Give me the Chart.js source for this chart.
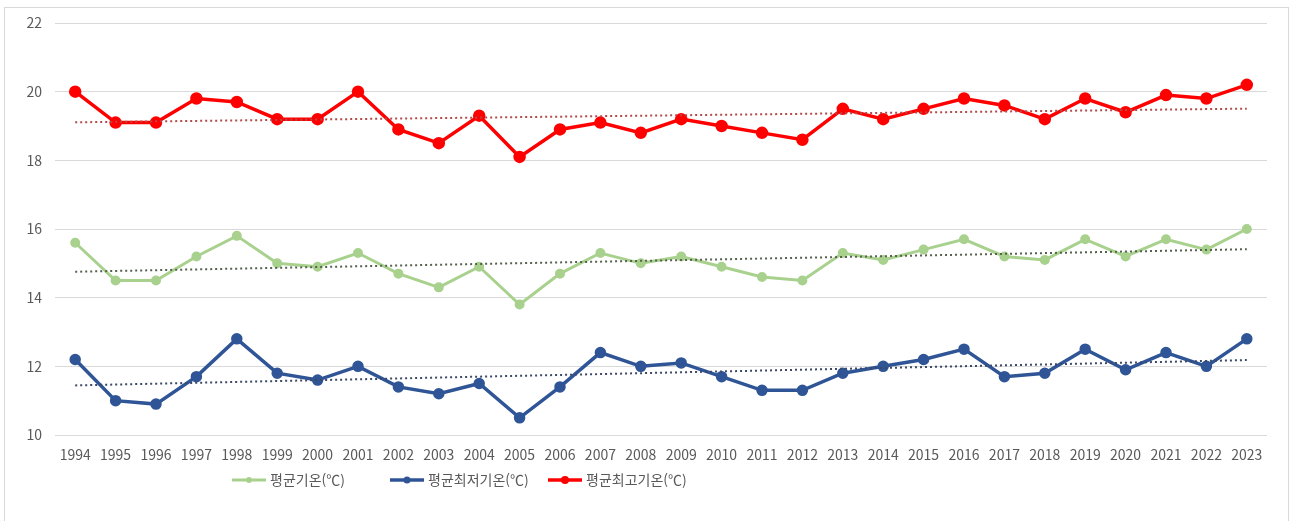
<html lang="ko">
<head>
    <meta charset="UTF-8">
    <title>연도별 기온</title>
    <style>
        body { margin: 0; background: #fff; }
        #frame { position: absolute; left: 4px; top: 7px; width: 1283px; height: 520px; border: 1px solid #d9d9d9; }
        #temp-chart { position: absolute; left: 0; top: 0; }
    </style>
</head>
<body>
    <div id="frame"></div>
    <canvas id="temp-chart" width="1290" height="521"></canvas>

    <script src="https://cdn.jsdelivr.net/npm/chart.js"></script>
    <script>
        // 연도 및 기온 자료
        const years = ['1994','1995','1996','1997','1998','1999','2000','2001','2002','2003',
                       '2004','2005','2006','2007','2008','2009','2010','2011','2012','2013',
                       '2014','2015','2016','2017','2018','2019','2020','2021','2022','2023'];
        const avgTemp = [15.6, 14.5, 14.5, 15.2, 15.8, 15.0, 14.9, 15.3, 14.7, 14.3,
                         14.9, 13.8, 14.7, 15.3, 15.0, 15.2, 14.9, 14.6, 14.5, 15.3,
                         15.1, 15.4, 15.7, 15.2, 15.1, 15.7, 15.2, 15.7, 15.4, 16.0];
        const avgMin = [12.2, 11.0, 10.9, 11.7, 12.8, 11.8, 11.6, 12.0, 11.4, 11.2,
                        11.5, 10.5, 11.4, 12.4, 12.0, 12.1, 11.7, 11.3, 11.3, 11.8,
                        12.0, 12.2, 12.5, 11.7, 11.8, 12.5, 11.9, 12.4, 12.0, 12.8];
        const avgMax = [20.0, 19.1, 19.1, 19.8, 19.7, 19.2, 19.2, 20.0, 18.9, 18.5,
                        19.3, 18.1, 18.9, 19.1, 18.8, 19.2, 19.0, 18.8, 18.6, 19.5,
                        19.2, 19.5, 19.8, 19.6, 19.2, 19.8, 19.4, 19.9, 19.8, 20.2];
        const yTicks = [10, 12, 14, 16, 18, 20, 22];

        const FONT = '"Noto Sans CJK KR", "Noto Sans", sans-serif';
        const TEXT = '#595959';

        // 선형 추세선 (최소제곱)
        function trend(values) {
            const n = values.length;
            let sx = 0, sy = 0, sxy = 0, sxx = 0;
            values.forEach((v, i) => { sx += i; sy += v; sxy += i * v; sxx += i * i; });
            const b = (n * sxy - sx * sy) / (n * sxx - sx * sx);
            const a = (sy - b * sx) / n;
            return values.map((v, i) => a + b * i);
        }

        function series(label, data, color, width, radius) {
            return {
                label: label, data: data,
                borderColor: color, backgroundColor: color,
                borderWidth: width, pointRadius: radius, pointHoverRadius: radius,
                tension: 0
            };
        }

        function trendSeries(data, color) {
            return {
                label: 'trend', data: trend(data),
                borderColor: color, borderWidth: 2, borderDash: [2, 3],
                pointRadius: 0, tension: 0, isTrend: true
            };
        }

        // 범례: 일정한 간격의 칸에 그림
        const slotLegend = {
            id: 'slotLegend',
            afterDraw(chart) {
                const ctx = chart.ctx;
                let i = 0;
                chart.data.datasets.forEach(ds => {
                    if (ds.isTrend) return;
                    const x0 = 232 + i * 158, y = 480;
                    ctx.save();
                    ctx.strokeStyle = ds.borderColor;
                    ctx.lineWidth = ds.borderWidth;
                    ctx.beginPath();
                    ctx.moveTo(x0, y);
                    ctx.lineTo(x0 + 34, y);
                    ctx.stroke();
                    ctx.fillStyle = ds.borderColor;
                    ctx.beginPath();
                    ctx.arc(x0 + 17, y, ds.pointRadius - 0.5, 0, Math.PI * 2);
                    ctx.fill();
                    ctx.fillStyle = TEXT;
                    ctx.font = '14px ' + FONT;
                    ctx.textBaseline = 'middle';
                    ctx.fillText(ds.label, x0 + 38, y);
                    ctx.restore();
                    i++;
                });
            }
        };

        new Chart(document.getElementById('temp-chart'), {
            type: 'line',
            data: {
                labels: years,
                datasets: [
                    trendSeries(avgMax, '#b24a4a'),
                    trendSeries(avgTemp, '#55604d'),
                    trendSeries(avgMin, '#3b4866'),
                    series('평균기온(℃)', avgTemp, '#a9d18e', 3, 3.5),
                    series('평균최저기온(℃)', avgMin, '#2f5597', 3.5, 4),
                    series('평균최고기온(℃)', avgMax, '#ff0000', 3.5, 4.5)
                ]
            },
            options: {
                responsive: false,
                animation: false,
                layout: { padding: { top: 23, right: 23, bottom: 56, left: 0 } },
                plugins: { legend: { display: false }, tooltip: { enabled: false } },
                scales: {
                    x: {
                        offset: true,
                        grid: { display: false },
                        border: { display: false },
                        ticks: { color: TEXT, font: { family: FONT, size: 14 }, padding: 3, maxRotation: 0, autoSkip: false },
                        afterFit: s => { s.height = 30; }
                    },
                    y: {
                        min: 10, max: 22,
                        afterBuildTicks: s => { s.ticks = yTicks.map(v => ({ value: v })); },
                        grid: { color: '#d9d9d9', lineWidth: 1, drawTicks: false },
                        border: { display: false },
                        ticks: { color: TEXT, font: { family: FONT, size: 14 }, padding: 13 },
                        afterFit: s => { s.width = 55; }
                    }
                }
            },
            plugins: [slotLegend]
        });
    </script>
</body>
</html>
